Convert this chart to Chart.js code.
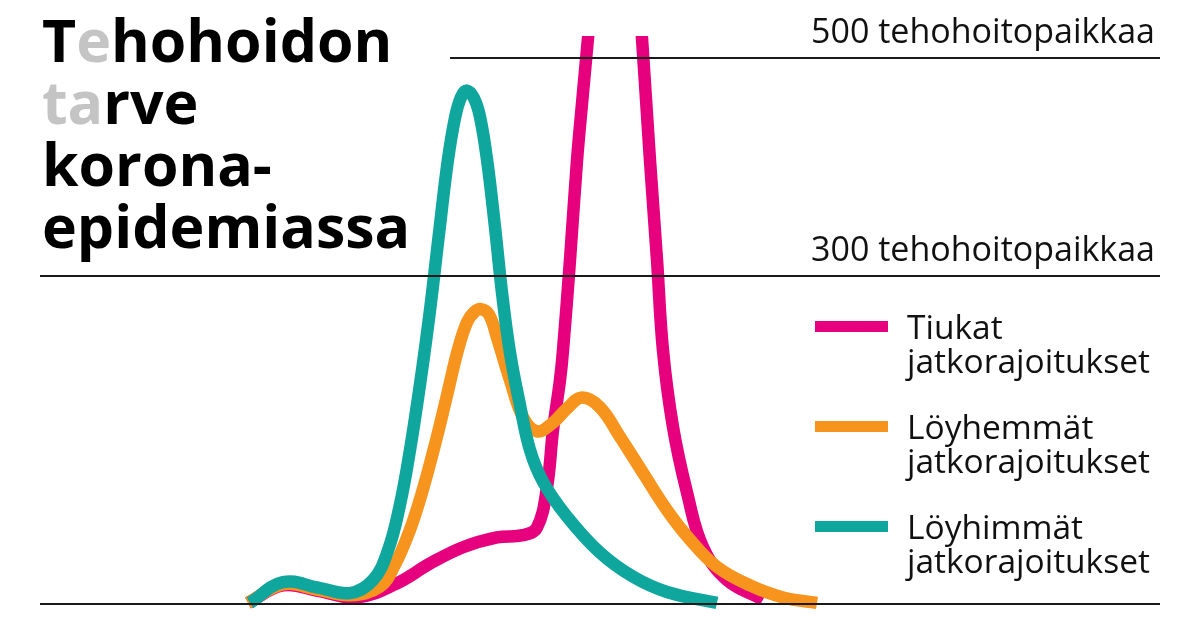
<!DOCTYPE html>
<html lang="fi">
<head>
<meta charset="utf-8">
<script src="https://cdn.jsdelivr.net/npm/chart.js@4"></script>
<style>
  html, body { margin: 0; padding: 0; background: #fff; }
  #wrap { position: relative; width: 1200px; height: 630px; overflow: hidden; background: #fff; }
  #c { position: absolute; left: 0; top: 0; }
  #title { position: absolute; left: 42px; top: 8px; font-family: "Open Sans", sans-serif; font-weight: 700;
           font-size: 59px; line-height: 62px; color: #000; letter-spacing: 0; margin: 0; }
  #title .g { color: #c4c4c4; }
  .leg { position: absolute; left: 815px; }
  .sw { position: absolute; left: 0; width: 73px; height: 11px; }
  .lt { position: absolute; left: 92px; top: 0; font-family: "Open Sans", sans-serif; font-size: 33.5px;
        line-height: 34px; color: #111; white-space: nowrap; }
</style>
</head>
<body>
<div id="wrap">
  <canvas id="c" width="1200" height="630"></canvas>
  <h1 id="title">T<span class="g">e</span>hohoidon<br><span class="g">ta</span>rve<br>korona-<br>epidemiassa</h1>
  <div id="legend"></div>
</div>
<script>
// ---- data (x = day index, y = intensive-care patients) ----
const seriesNames = ["Tiukat jatkorajoitukset", "Löyhemmät jatkorajoitukset", "Löyhimmät jatkorajoitukset"];
const seriesColors = ["#e6007e", "#f7941d", "#0fa79d"];

const tiukatDays   = [41.6, 48.6, 55.6, 63.4, 71.4, 78.0, 84.6, 91.4, 96.6, 99.4, 101.4, 102.6, 104.0, 104.6, 106.0, 107.4, 108.6, 109.6, 112.0, 115.4, 118.4, 120.4, 122.0, 123.4, 124.6, 126.6, 129.4, 132.6, 137.4, 144.6];
const tiukatValues = [1, 17, 12, 6, 19, 37, 52, 61, 63, 70, 107, 159, 205, 232, 315, 406, 468, 518, 639, 763, 646, 518, 406, 315, 232, 162, 102, 52, 22, 4];

const loyhemmatDays   = [41.6, 48.6, 55.6, 62.0, 68.0, 71.0, 74.0, 76.4, 79.0, 81.4, 83.6, 85.4, 86.8, 88.2, 89.8, 91.4, 94.0, 96.6, 99.4, 102.6, 105.4, 108.4, 112.0, 116.0, 120.6, 125.4, 130.0, 135.4, 142.0, 148.6, 155.4];
const loyhemmatValues = [1, 18, 13, 8, 16, 36, 68, 102, 146, 191, 233, 258, 267, 270, 265, 244, 205, 171, 158, 166, 179, 189, 180, 153, 120, 86, 59, 34, 17, 6, 1];

const loyhimmatDays   = [42.0, 48.6, 55.6, 62.0, 66.6, 69.6, 72.0, 74.0, 76.0, 78.0, 80.0, 81.6, 83.0, 84.2, 85.4, 86.8, 88.0, 89.4, 91.0, 92.4, 94.0, 96.0, 98.0, 100.6, 105.4, 112.0, 118.6, 125.4, 135.4];
const loyhimmatValues = [1, 20, 15, 10, 22, 49, 91, 141, 201, 269, 347, 407, 445, 464, 470, 463, 446, 407, 345, 285, 230, 182, 141, 112, 80, 47, 25, 11, 1];

// reference lines: value, first day drawn, label
const refValues = [500, 300];
const refStartDays = [82, 0];
const refLabels = ["500 tehohoitopaikkaa", "300 tehohoitopaikkaa"];

const xMax = 224, yMax = 520;

function pts(xs, ys) { return xs.map((x, i) => ({ x: x, y: ys[i] })); }

// ---- legend (HTML) ----
const legendEl = document.getElementById('legend');
seriesNames.forEach((name, i) => {
  const item = document.createElement('div');
  item.className = 'leg';
  item.style.top = (309 + i * 100) + 'px';
  const sw = document.createElement('div');
  sw.className = 'sw';
  sw.style.background = seriesColors[i];
  sw.style.top = '12px';
  const t = document.createElement('div');
  t.className = 'lt';
  const parts = name.split(' ');
  t.innerHTML = parts[0] + '<br>' + parts.slice(1).join(' ');
  item.appendChild(sw); item.appendChild(t);
  legendEl.appendChild(item);
});

// ---- reference lines plugin ----
const refPlugin = {
  id: 'refLines',
  afterDatasetsDraw(chart) {
    const { ctx, chartArea, scales } = chart;
    ctx.save();
    ctx.strokeStyle = '#1a1a1a';
    ctx.lineWidth = 2;
    const y0 = Math.round(scales.y.getPixelForValue(0));
    ctx.beginPath(); ctx.moveTo(chartArea.left, y0); ctx.lineTo(chartArea.right, y0); ctx.stroke();
    ctx.font = '34px "Open Sans", sans-serif';
    ctx.fillStyle = '#111';
    ctx.textAlign = 'right';
    ctx.textBaseline = 'alphabetic';
    refValues.forEach((v, i) => {
      const y = Math.round(scales.y.getPixelForValue(v));
      const x0 = scales.x.getPixelForValue(refStartDays[i]);
      ctx.beginPath(); ctx.moveTo(x0, y); ctx.lineTo(chartArea.right, y); ctx.stroke();
      ctx.fillText(refLabels[i], chartArea.right - 5, y - 15);
    });
    ctx.restore();
  }
};

const allDays = [tiukatDays, loyhemmatDays, loyhimmatDays];
const allValues = [tiukatValues, loyhemmatValues, loyhimmatValues];

new Chart(document.getElementById('c'), {
  type: 'line',
  data: {
    datasets: seriesNames.map((n, i) => ({
      label: n,
      data: pts(allDays[i], allValues[i]),
      borderColor: seriesColors[i],
      backgroundColor: seriesColors[i],
      borderWidth: 12.5,
      pointRadius: 0,
      fill: false,
      tension: 0.4,
      borderCapStyle: 'butt',
      borderJoinStyle: 'round',
      order: 3 - i,
      clip: { left: 20, top: 0, right: 20, bottom: 12 }
    }))
  },
  options: {
    responsive: false,
    animation: false,
    events: [],
    layout: { padding: { left: 40, right: 40, top: 36, bottom: 26 } },
    elements: { line: { capBezierPoints: false } },
    scales: {
      x: { type: 'linear', min: 0, max: xMax, display: false },
      y: { type: 'linear', min: 0, max: yMax, display: false }
    },
    plugins: { legend: { display: false }, tooltip: { enabled: false } }
  },
  plugins: [refPlugin]
});
</script>
</body>
</html>
